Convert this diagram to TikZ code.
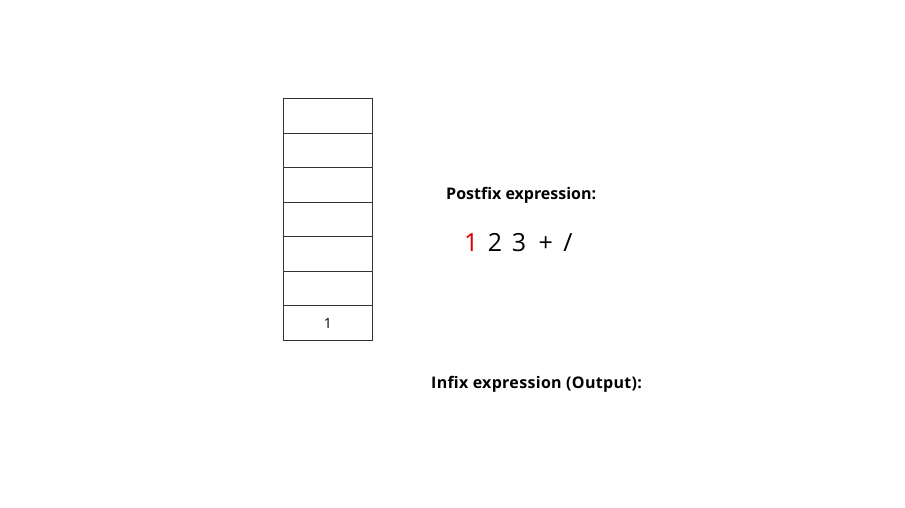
\documentclass[tikz,border=0pt]{standalone}
\usepackage{fontspec}
\setmainfont{Open Sans}
\begin{document}
\begin{tikzpicture}[x=1pt,y=-1pt,
  cell/.style={draw=black!80,line width=0.8pt,minimum width=89pt,minimum height=34.57pt,inner sep=0pt,anchor=north west},
  label/.style={font=\bfseries\fontsize{16}{19}\selectfont,anchor=base west,inner sep=0pt},
  expr/.style={font=\fontsize{25}{30}\selectfont,anchor=base west,inner sep=0pt}]
\useasboundingbox (0,0) rectangle (905,508);
\foreach \i in {0,...,6} {
  \node[cell] (c\i) at (283,{98+34.57*\i}) {};
}
\node[font=\fontsize{14}{16}\selectfont] (v1) at (c6.center) {1};
\node[label] (pf) at (446,200) {Postfix expression:};
\node[expr] (ex) at (464,251) {\textcolor{red!85!black}{1}\hspace{3pt}\ 2\hspace{3pt}\ 3\hspace{6pt}\ +\hspace{4pt}\ /};
\node[label] (inf) at (431,388) {\addfontfeature{LetterSpace=2}Infix expression (Output):};
\end{tikzpicture}
\end{document}
